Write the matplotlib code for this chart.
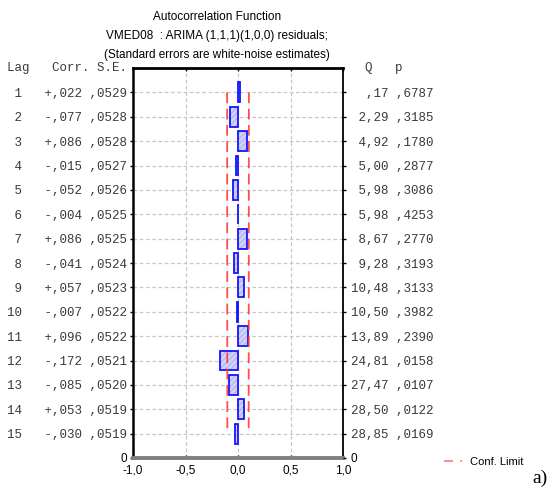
import matplotlib
matplotlib.use("Agg")
import matplotlib.pyplot as plt
from matplotlib.lines import Line2D
import numpy as np

lags = [1, 2, 3, 4, 5, 6, 7, 8, 9, 10, 11, 12, 13, 14, 15]
corr = [0.022, -0.077, 0.086, -0.015, -0.052, -0.004, 0.086, -0.041,
        0.057, -0.007, 0.096, -0.172, -0.085, 0.053, -0.030]
se = [0.0529, 0.0528, 0.0528, 0.0527, 0.0526, 0.0525, 0.0525, 0.0524,
      0.0523, 0.0522, 0.0522, 0.0521, 0.0520, 0.0519, 0.0519]
q_stat = [0.17, 2.29, 4.92, 5.00, 5.98, 5.98, 8.67, 9.28,
          10.48, 10.50, 13.89, 24.81, 27.47, 28.50, 28.85]
p_val = [0.6787, 0.3185, 0.1780, 0.2877, 0.3086, 0.4253, 0.2770, 0.3193,
         0.3133, 0.3982, 0.2390, 0.0158, 0.0107, 0.0122, 0.0169]
xticks = [-1.0, -0.5, 0.0, 0.5, 1.0]
xticklabels = ["-1,0", "-0,5", "0,0", "0,5", "1,0"]
title_lines = ["Autocorrelation Function",
               "VMED08  : ARIMA (1,1,1)(1,0,0) residuals;",
               "(Standard errors are white-noise estimates)"]

MONO = "Liberation Mono"
SANS = "Liberation Sans"
TXT = "#3a3a3a"

plt.rcParams["hatch.linewidth"] = 0.6


def fmt_signed(v):
    s = "+" if v >= 0 else "-"
    return s + ("%.3f" % abs(v)).lstrip("0").replace(".", ",")


def fmt_frac(v, nd):
    return ("%.*f" % (nd, v)).lstrip("0").replace(".", ",")


def fmt_q(v):
    s = "%.2f" % v
    if s.startswith("0"):
        s = s[1:]
    return s.replace(".", ",")


def style_labels(labels):
    for i, t in enumerate(labels):
        if i == 0:
            t.set_fontfamily(SANS)
            t.set_fontsize(8.5)
            t.set_color("black")
        else:
            t.set_fontfamily(MONO)
            t.set_fontsize(9)
            t.set_color(TXT)


fig = plt.figure(figsize=(5.52, 4.91), dpi=100)
ax = fig.add_axes([133 / 552, 1 - 458 / 491, (343 - 133) / 552, (458 - 68) / 491])

ypos = [16 - l for l in lags]
ax.set_xlim(-1, 1)
ax.set_ylim(0, 16)

# grid
for y in ypos:
    ax.axhline(y, color="#c8c8c8", lw=0.9, ls=(0, (3, 2)), zorder=0)
for x in xticks[1:-1]:
    ax.axvline(x, color="#c8c8c8", lw=0.9, ls=(0, (3, 2)), zorder=0)

# bars
ax.barh(ypos, corr, height=0.82, left=0, color="#d2d2f8", edgecolor="#a8a8ee",
        hatch="//////", linewidth=0, zorder=2)
ax.barh(ypos, corr, height=0.82, left=0, facecolor="none", edgecolor="#1414ff",
        linewidth=1.3, zorder=3)

# confidence limits
conf = [1.96 * s for s in se]
ax.plot(conf, ypos, color="#ff3030", alpha=0.85, lw=1.3, ls=(0, (6, 3)), zorder=4)
ax.plot([-c for c in conf], ypos, color="#ff3030", alpha=0.85, lw=1.3,
        ls=(0, (6, 3)), zorder=4)

# spines
ax.spines["top"].set_linewidth(2.0)
ax.spines["top"].set_color("black")
ax.spines["left"].set_linewidth(1.8)
ax.spines["left"].set_color("black")
ax.spines["right"].set_linewidth(1.3)
ax.spines["right"].set_color("black")
ax.spines["bottom"].set_linewidth(2.8)
ax.spines["bottom"].set_color("#808080")

# x ticks
ax.set_xticks(xticks)
ax.set_xticklabels(xticklabels, fontfamily=SANS, fontsize=8.5, color="black")
ax.tick_params(axis="x", direction="in", length=2.5, width=1, pad=5,
               top=True, bottom=True, color="black")

# y ticks with text rows
ax.set_yticks([0] + ypos)
left_labels = ["0"] + ["%2d   %s %s" % (l, fmt_signed(c), fmt_frac(s, 4))
                       for l, c, s in zip(lags, corr, se)]
right_labels = ["0"] + [("%s %s" % (fmt_q(q), fmt_frac(p, 4))).rjust(11)
                        for q, p in zip(q_stat, p_val)]
ax.set_yticklabels(left_labels)
ax.tick_params(axis="y", direction="out", length=2.5, width=1, pad=1.5,
               left=True, right=False, labelleft=True, labelright=False, color="black")
style_labels(ax.get_yticklabels())

ax2 = ax.twinx()
ax2.set_ylim(0, 16)
ax2.set_yticks([0] + ypos)
ax2.set_yticklabels(right_labels)
ax2.tick_params(axis="y", direction="out", length=2.5, width=1, pad=3, color="black")
for sp in ax2.spines.values():
    sp.set_visible(False)
style_labels(ax2.get_yticklabels())

# headers
fig.text(127 / 552, 1 - 68 / 491, "Lag   Corr. S.E.", fontfamily=MONO, fontsize=9,
         color=TXT, ha="right", va="center")
fig.text(350 / 552, 1 - 68 / 491, "  Q   p", fontfamily=MONO, fontsize=9,
         color=TXT, ha="left", va="center")

# titles
for i, line in enumerate(title_lines):
    fig.text(217 / 552, 1 - (17 + 19 * i) / 491, line, fontfamily=SANS, fontsize=8.5,
             color="black", ha="center", va="center")

# legend
leg_handle = Line2D([0], [0], color="#ff3030", alpha=0.6, lw=1.3, ls=(0, (5, 4, 1, 4)))
fig.legend([leg_handle], ["Conf. Limit"], loc="center left",
           bbox_to_anchor=(444 / 552, 1 - 462 / 491), frameon=False,
           prop={"family": SANS, "size": 8}, handlelength=1.8, handletextpad=0.5,
           borderpad=0, borderaxespad=0)

fig.text(532 / 552, 1 - 478 / 491, "a)", fontfamily="Liberation Serif", fontsize=14,
         color="black", ha="left", va="center")

fig.savefig("out.png", dpi=100)
